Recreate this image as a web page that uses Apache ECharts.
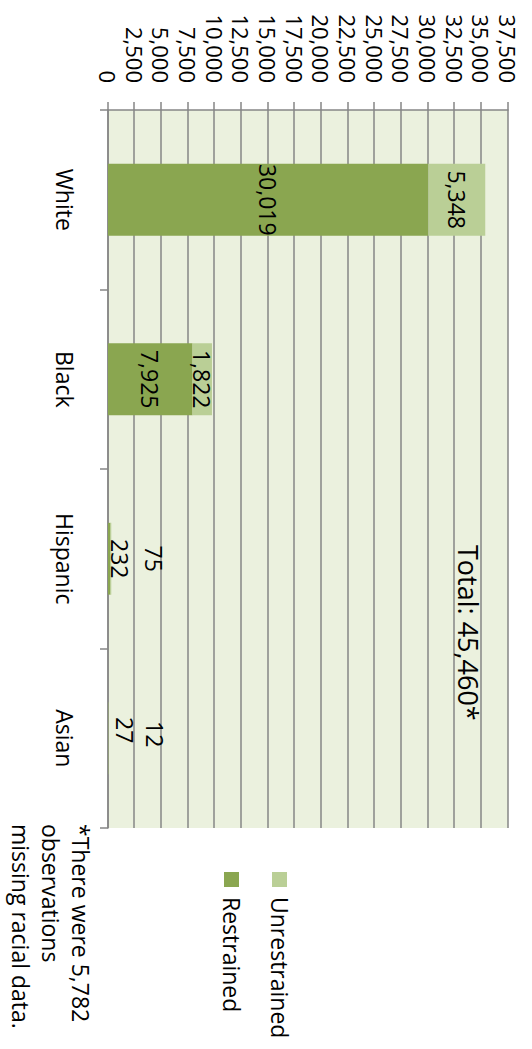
<!DOCTYPE html>
<html><head><meta charset="utf-8">
<script src="https://cdn.jsdelivr.net/npm/echarts@6/dist/echarts.min.js"></script>
<style>
html,body{margin:0;padding:0;width:532px;height:1049px;overflow:hidden;background:#fff;}
#chart{position:absolute;left:0;top:0;width:1049px;height:532px;transform-origin:0 0;transform:translate(532px,0) rotate(90deg);}
</style></head><body><div id="chart"></div>
<script>
// ---- data ----
const categories = ['White', 'Black', 'Hispanic', 'Asian'];
const restrained = [30019, 7925, 232, 27];
const unrestrained = [5348, 1822, 75, 12];
const valueMin = 0, valueMax = 37500, valueStep = 2500;
const seriesNames = ['Restrained', 'Unrestrained'];
const legendOrder = ['Unrestrained', 'Restrained'];
const totalLabel = 'Total: 45,460*';
const footnoteLines = ['*There were 5,782', 'observations', 'missing racial data.'];

// ---- style ----
const FONT = '"Open Sans", "Noto Sans", sans-serif';
const GRAY = '#868686';
const fmt = v => Number(v).toLocaleString('en-US');
// manual nudges for labels on the tiny bars (pixels, in chart frame)
const labelShift = {
  Restrained: { Hispanic: [0, -11], Asian: [-8, -17] },
  Unrestrained: { Hispanic: [0, -43], Asian: [-4, -47] }
};
function buildData(name, values) {
  return values.map((v, i) => {
    const s = labelShift[name][categories[i]];
    return s ? { value: v, label: { offset: s } } : { value: v };
  });
}

const chart = echarts.init(document.getElementById('chart'), null, { renderer: 'svg', width: 1049, height: 532 });
chart.setOption({
  animation: false,
  textStyle: { fontFamily: FONT },
  grid: { left: 110, right: 221, top: 24, bottom: 108, show: true, backgroundColor: '#EBF1DE', borderWidth: 0 },
  legend: {
    orient: 'vertical', left: 867, top: 236, itemWidth: 15, itemHeight: 15, itemGap: 25, icon: 'rect',
    data: legendOrder,
    textStyle: { fontSize: 23, color: '#000', fontFamily: FONT, padding: [0, 0, 0, 5] }
  },
  xAxis: {
    type: 'category', data: categories,
    axisLine: { show: true, lineStyle: { color: GRAY, width: 1.5 } },
    axisTick: { show: true, length: 8, lineStyle: { color: GRAY, width: 1.5 } },
    axisLabel: { margin: 32, fontSize: 23, color: '#000', fontFamily: FONT }
  },
  yAxis: {
    type: 'value', min: valueMin, max: valueMax, interval: valueStep,
    axisLine: { show: true, lineStyle: { color: GRAY, width: 1.5 } },
    axisTick: { show: true, length: 8, lineStyle: { color: GRAY, width: 1.5 } },
    splitLine: { show: true, lineStyle: { color: GRAY, width: 1.5 } },
    axisLabel: { margin: 27, fontSize: 22, color: '#000', fontFamily: FONT, formatter: fmt }
  },
  series: [
    {
      name: seriesNames[0], type: 'bar', stack: 'total', barWidth: '40%',
      itemStyle: { color: '#8AA650' },
      label: { show: true, position: 'inside', fontSize: 23, color: '#000', fontFamily: FONT, formatter: p => fmt(p.value) },
      data: buildData('Restrained', restrained)
    },
    {
      name: seriesNames[1], type: 'bar', stack: 'total', barWidth: '40%',
      itemStyle: { color: '#BACF96' },
      label: { show: true, position: 'inside', fontSize: 23, color: '#000', fontFamily: FONT, formatter: p => fmt(p.value) },
      data: buildData('Unrestrained', unrestrained)
    }
  ],
  graphic: [
    { type: 'text', x: 545, y: 64, z: 100,
      style: { text: totalLabel, fontSize: 27, fontFamily: FONT, fill: '#000', verticalAlign: 'middle', align: 'left' } },
    { type: 'text', x: 824, y: 436, z: 100,
      style: { text: footnoteLines.join('\n'), fontSize: 23, lineHeight: 30, fontFamily: FONT, fill: '#000', verticalAlign: 'top', align: 'left' } }
  ]
});
</script></body></html>
